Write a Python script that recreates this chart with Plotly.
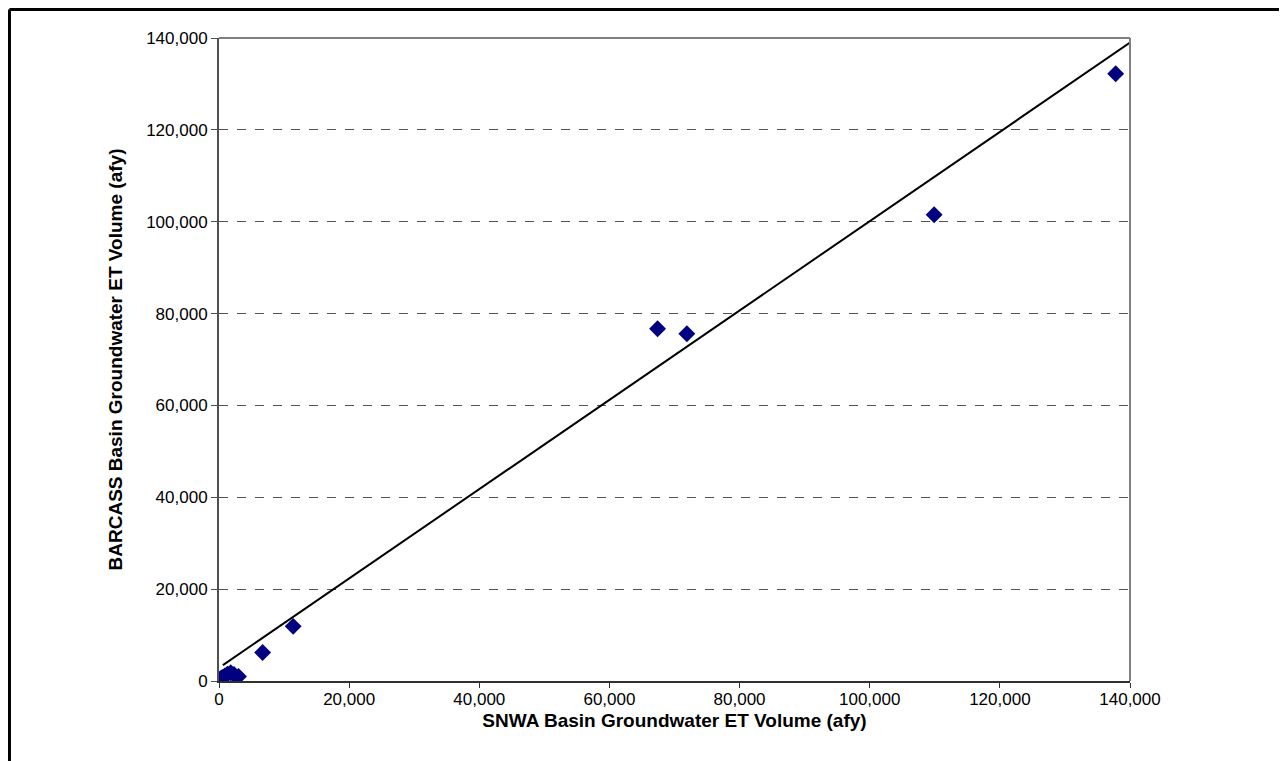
import plotly.graph_objects as go

# SNWA (x) vs BARCASS (y) basin groundwater ET volumes (afy)
snwa = [200, 500, 900, 1300, 1800, 2300, 3000, 6700, 11400, 67400, 71900, 109900, 137800]
barcass = [500, 800, 1100, 1500, 1800, 1400, 1000, 6200, 11900, 76700, 75600, 101500, 132200]

# fitted line
line_x = [600, 140000]
line_y = [3470, 139000]

x_ticks = [0, 20000, 40000, 60000, 80000, 100000, 120000, 140000]
y_ticks = [0, 20000, 40000, 60000, 80000, 100000, 120000, 140000]

font = "Liberation Sans, Arial, sans-serif"

fig = go.Figure()
fig.add_trace(go.Scatter(x=line_x, y=line_y, mode="lines",
                         line=dict(color="black", width=2), showlegend=False,
                         hoverinfo="skip"))
fig.add_trace(go.Scatter(x=snwa, y=barcass, mode="markers",
                         marker=dict(symbol="diamond", size=13, color="#000080",
                                     line=dict(width=0)),
                         showlegend=False))
# dummy trace for the overlay axis (inner tick half)
fig.add_trace(go.Scatter(x=[0], y=[0], yaxis="y2", mode="markers",
                         marker=dict(opacity=0), showlegend=False, hoverinfo="skip"))

fig.update_layout(
    width=1287, height=761,
    margin=dict(l=211, r=165, t=30, b=88),
    paper_bgcolor="white", plot_bgcolor="white",
    font=dict(family=font, size=17, color="black"),
    xaxis=dict(range=[0, 140000], tickvals=x_ticks,
               ticktext=[f"{v:,}" for v in x_ticks],
               showgrid=False, zeroline=False,
               showline=True, linecolor="#303030", linewidth=2,
               ticks="outside", ticklen=5, tickcolor="#303030", tickwidth=1,
               ticklabelstandoff=-3,
               title=dict(text="<b>SNWA Basin Groundwater ET Volume (afy)</b>",
                          font=dict(size=19), standoff=5)),
    yaxis=dict(range=[0, 140000], tickvals=y_ticks,
               ticktext=[f"{v:,}" for v in y_ticks],
               showgrid=True, gridcolor="#555555", griddash="dash", gridwidth=1,
               zeroline=False,
               showline=True, linecolor="#505050", linewidth=2,
               ticks="outside", ticklen=6, tickcolor="#505050", tickwidth=1,
               title=dict(text="<b>BARCASS Basin Groundwater ET Volume (afy)</b>",
                          font=dict(size=19), standoff=18)),
    yaxis2=dict(range=[0, 140000], tickvals=y_ticks, overlaying="y",
                side="left", showticklabels=False, showgrid=False,
                zeroline=False, showline=False,
                ticks="inside", ticklen=6, tickcolor="#505050", tickwidth=1),
    shapes=[
        # plot area top & right border
        dict(type="line", xref="paper", yref="paper", x0=0, y0=1, x1=1, y1=1,
             line=dict(color="#808080", width=2)),
        dict(type="line", xref="paper", yref="paper", x0=1, y0=0, x1=1, y1=1,
             line=dict(color="#808080", width=2)),
        # outer chart frame (left and top)
        dict(type="line", xref="paper", yref="paper",
             x0=-0.2300, y0=-0.2, x1=-0.2300, y1=1.0443,
             line=dict(color="black", width=3)),
        dict(type="line", xref="paper", yref="paper",
             x0=-0.2300, y0=1.0443, x1=1.3, y1=1.0443,
             line=dict(color="black", width=3)),
    ],
)

fig.write_html("out.html")
